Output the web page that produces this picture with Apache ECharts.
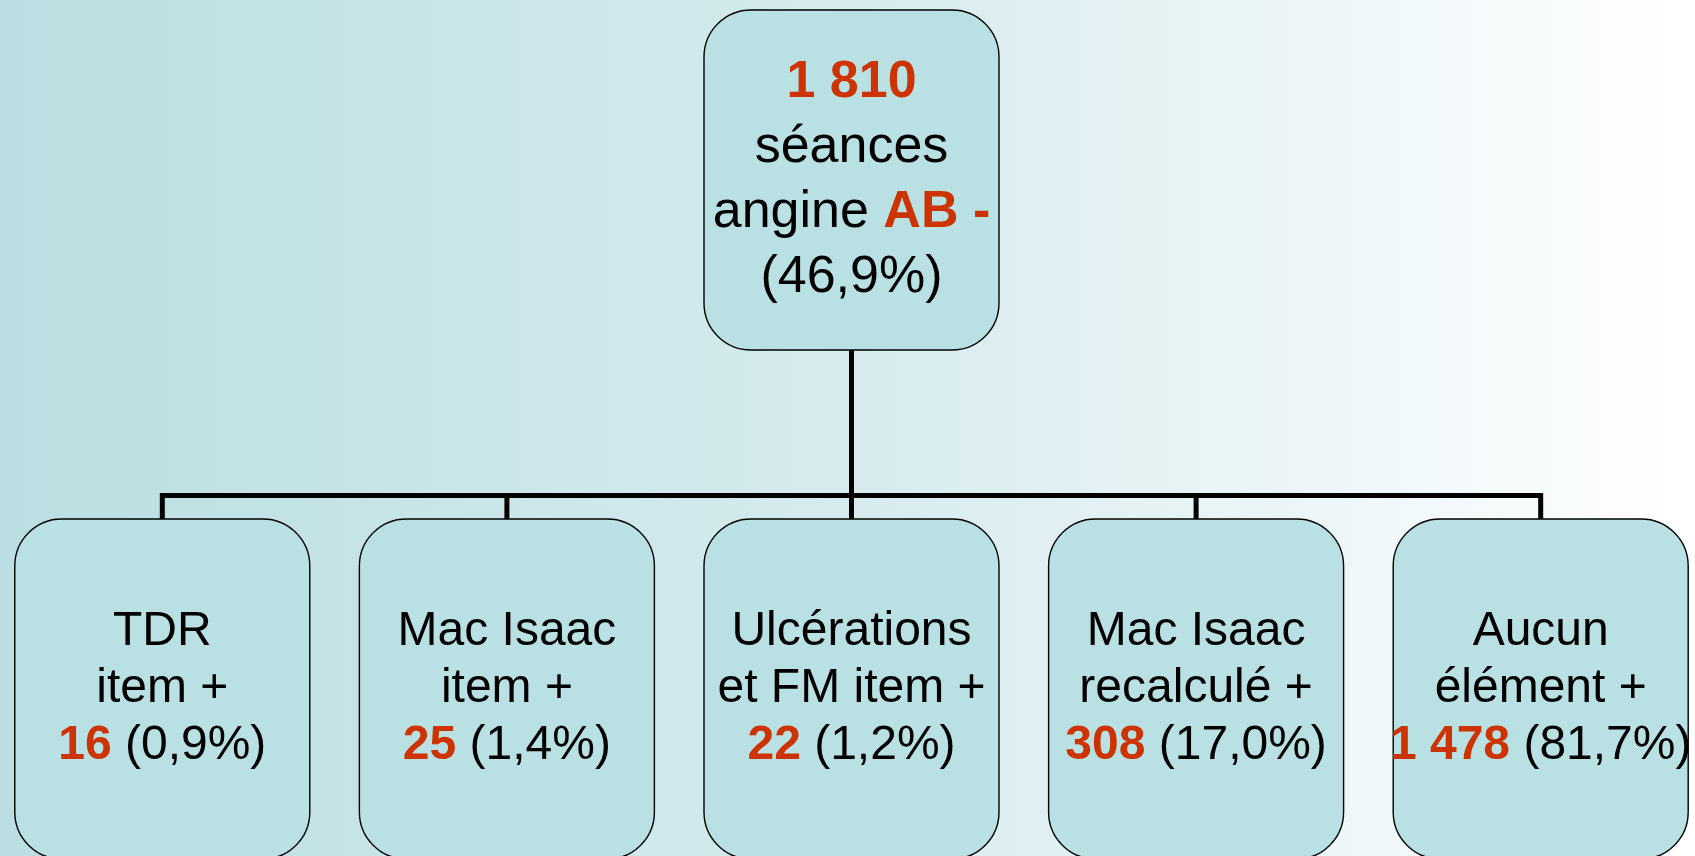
<!DOCTYPE html>
<html>
<head>
<meta charset="utf-8">
<script src="https://cdn.jsdelivr.net/npm/echarts@6/dist/echarts.min.js"></script>
<style>
  html, body { margin: 0; padding: 0; }
  #main { width: 1695px; height: 856px; }
</style>
</head>
<body>
<div id="main"></div>
<script>
// racine
const rootCount = '1 810';
const rootLines = ['séances', 'angine'];
const rootTag = 'AB -';
const rootPct = '46,9%';

// enfants
const childLine1 = ['TDR', 'Mac Isaac', 'Ulcérations', 'Mac Isaac', 'Aucun'];
const childLine2 = ['item +', 'item +', 'et FM item +', 'recalculé +', 'élément +'];
const childCounts = ['16', '25', '22', '308', '1 478'];
const childPcts = ['0,9%', '1,4%', '1,2%', '17,0%', '81,7%'];

const RED = '#cc3300';
const BOX_FILL = '#b9e0e3';
// boite arrondie 295x340, rayon 47
const BOX = 'path://M47,0 L248,0 A47,47 0 0 1 295,47 L295,293 A47,47 0 0 1 248,340 L47,340 A47,47 0 0 1 0,293 L0,47 A47,47 0 0 1 47,0 Z';
const FONT = '"Liberation Sans", Arial, sans-serif';

var myChart = echarts.init(document.getElementById('main'));

var children = childLine1.map(function (l1, i) {
    return {
        name: l1 + ' ' + childLine2[i],
        label: {
            formatter: '{n|' + l1 + '}\n{n|' + childLine2[i] + '}\n{r|' + childCounts[i] + '}{n| (' + childPcts[i] + ')}'
        }
    };
});

var rootNode = {
    name: rootCount + ' séances',
    label: {
        formatter: '{rr|' + rootCount + '}\n{nn|' + rootLines[0] + '}\n{nn|' + rootLines[1] + ' }{rr|' + rootTag + '}\n{nn|(' + rootPct + ')}'
    },
    children: children
};

let option = {
    backgroundColor: {
        type: 'linear', x: 0, y: 0, x2: 1, y2: 0,
        colorStops: [
            { offset: 0, color: '#badee1' },
            { offset: 0.5, color: '#d6ebee' },
            { offset: 1, color: '#ffffff' }
        ]
    },
    animation: false,
    tooltip: { show: false },
    series: [{
        type: 'tree',
        orient: 'TB',
        data: [rootNode],
        // le layout garde une demi-case de marge de chaque cote
        left: -10,
        right: -18,
        top: 180,
        bottom: 167,
        roam: false,
        expandAndCollapse: false,
        edgeShape: 'polyline',
        edgeForkPosition: '62%',
        symbol: BOX,
        symbolSize: [295, 340],
        itemStyle: {
            color: BOX_FILL,
            borderColor: '#000',
            borderWidth: 1.5
        },
        lineStyle: {
            color: '#000',
            width: 5,
            curveness: 0
        },
        label: {
            position: 'inside',
            align: 'center',
            verticalAlign: 'middle',
            fontFamily: FONT,
            rich: {
                n: { fontSize: 48, lineHeight: 57, color: '#000', fontFamily: FONT },
                r: { fontSize: 48, lineHeight: 57, color: RED, fontWeight: 'bold', fontFamily: FONT },
                nn: { fontSize: 52, lineHeight: 65, color: '#000', fontFamily: FONT },
                rr: { fontSize: 52, lineHeight: 65, color: RED, fontWeight: 'bold', fontFamily: FONT }
            }
        },
        leaves: {
            label: {
                position: 'inside',
                align: 'center',
                verticalAlign: 'middle'
            }
        },
        emphasis: { disabled: true }
    }]
};

myChart.setOption(option);
</script>
</body>
</html>
